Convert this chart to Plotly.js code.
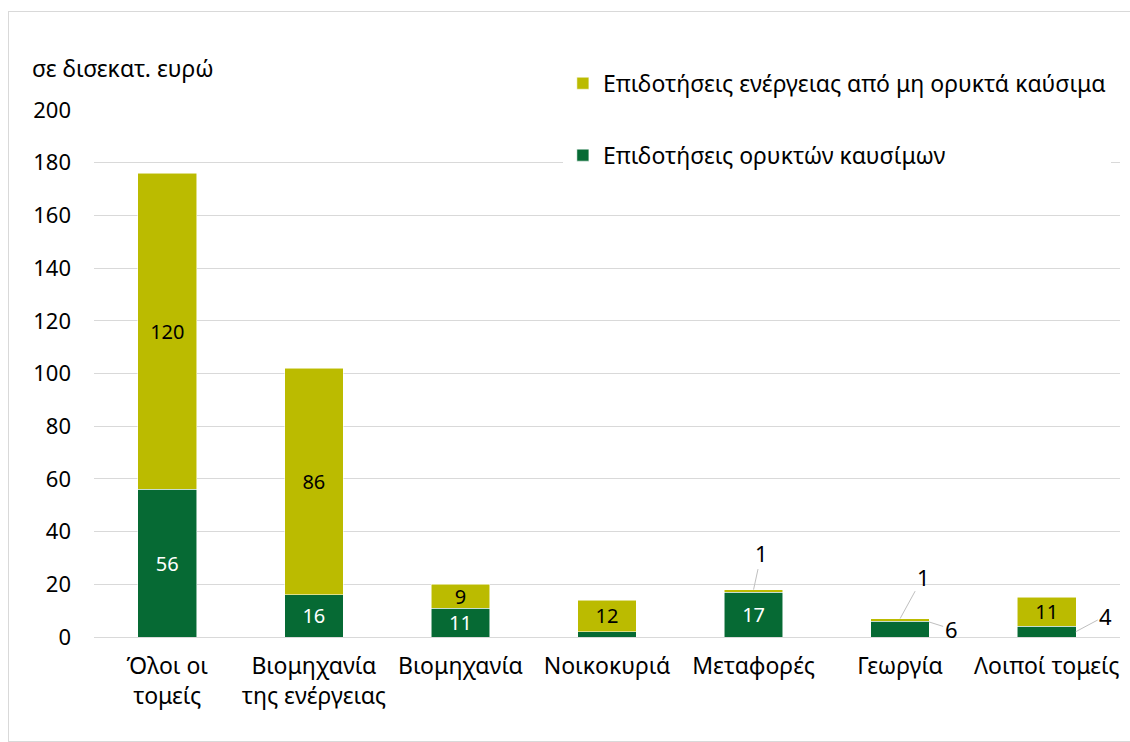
<!DOCTYPE html>
<html>
<head>
<meta charset="utf-8">
<script src="https://cdn.plot.ly/plotly-3.0.1.min.js"></script>
<style>
  html, body { margin: 0; padding: 0; background: #fff; }
  #wrap { position: relative; width: 1130px; height: 742px; overflow: hidden; }
  #chart { position: absolute; left: 0; top: 0; width: 1130px; height: 742px; }
  #frame { position: absolute; left: 8px; top: 11px; width: 1140px; height: 729px;
           border: 1px solid #d9d9d9; pointer-events: none; }
</style>
</head>
<body>
<div id="wrap">
  <div id="chart"></div>
  <div id="frame"></div>
</div>
<script>
// ---- data ----
const categories = ['Όλοι οι<br>τομείς', 'Βιομηχανία<br>της ενέργειας', 'Βιομηχανία', 'Νοικοκυριά', 'Μεταφορές', 'Γεωργία', 'Λοιποί τομείς'];
const fossil = [56, 16, 11, 2, 17, 6, 4];
const nonFossil = [120, 86, 9, 12, 1, 1, 11];
const seriesNames = ['Επιδοτήσεις ορυκτών καυσίμων', 'Επιδοτήσεις ενέργειας από μη ορυκτά καύσιμα'];
const yTicks = [0, 20, 40, 60, 80, 100, 120, 140, 160, 180, 200];
const unitLabel = 'σε δισεκατ. ευρώ';

const GREEN = '#066a34';
const OLIVE = '#bbbb00';
const FONT = 'Noto Sans, Open Sans, sans-serif';
const FS = 23;
const FS_NUM = 22;
const FS_BAR = 20;

// labels inside bars only when segment is tall enough
const inside = v => v >= 8 ? String(v) : '';

const traces = [
  {
    type: 'bar', name: seriesNames[0], x: categories, y: fossil,
    marker: { color: GREEN, line: { color: 'rgba(255,255,255,0.7)', width: 0.75 } },
    text: fossil.map(inside), textposition: 'inside', insidetextanchor: 'middle',
    constraintext: 'none', textangle: 0,
    textfont: { family: FONT, size: FS_BAR, color: '#ffffff' },
    legendgroup: 'g1', legendrank: 2, hoverinfo: 'skip'
  },
  {
    type: 'bar', name: seriesNames[1], x: categories, y: nonFossil,
    marker: { color: OLIVE, line: { color: 'rgba(255,255,255,0.7)', width: 0.75 } },
    text: nonFossil.map(inside), textposition: 'inside', insidetextanchor: 'middle',
    constraintext: 'none', textangle: 0,
    textfont: { family: FONT, size: FS_BAR, color: '#000000' },
    legendgroup: 'g2', legendrank: 1, hoverinfo: 'skip'
  }
];

const lead = { showarrow: true, arrowhead: 0, arrowwidth: 1, arrowcolor: '#bfbfbf',
               font: { family: FONT, size: FS_NUM, color: '#000' }, xref: 'x', yref: 'y' };

const annotations = [
  // unit label
  { text: unitLabel, xref: 'paper', yref: 'paper', x: -0.0625, y: 1.08,
    xanchor: 'left', yanchor: 'middle', showarrow: false,
    font: { family: FONT, size: FS, color: '#000' } },
  // Μεταφορές, non-fossil
  Object.assign({}, lead, { x: categories[4], y: fossil[4] + nonFossil[4], text: String(nonFossil[4]), ax: 8, ay: -37 }),
  // Γεωργία, non-fossil
  Object.assign({}, lead, { x: categories[5], y: fossil[5] + nonFossil[5], text: String(nonFossil[5]), ax: 23, ay: -42 }),
  // Γεωργία, fossil
  Object.assign({}, lead, { x: categories[5], y: fossil[5] - 0.3, xshift: 29, text: String(fossil[5]), ax: 22, ay: 7 }),
  // Λοιποί τομείς, fossil
  Object.assign({}, lead, { x: categories[6], y: fossil[6] / 2, xshift: 29, text: String(fossil[6]), ax: 30, ay: -16 })
];

const layout = {
  width: 1130, height: 742,
  margin: { l: 94, r: 10, t: 110, b: 105 },
  paper_bgcolor: '#ffffff', plot_bgcolor: '#ffffff',
  barmode: 'stack', bargap: 0.6,
  font: { family: FONT, size: FS, color: '#000' },
  showlegend: true,
  legend: {
    x: 0.457, y: 1.0915, xanchor: 'left', yanchor: 'top',
    bgcolor: '#ffffff', borderwidth: 0,
    traceorder: 'grouped', tracegroupgap: 39,
    font: { family: FONT, size: FS, color: '#000' }
  },
  xaxis: {
    type: 'category', showgrid: false, zeroline: false,
    showline: true, linecolor: '#d9d9d9', linewidth: 1,
    ticks: '', ticklabelstandoff: 8,
    tickfont: { family: FONT, size: FS, color: '#000' },
    fixedrange: true
  },
  yaxis: {
    range: [0, 200], tickmode: 'array', tickvals: yTicks, ticktext: yTicks.map(String),
    showgrid: true, gridcolor: '#d9d9d9', gridwidth: 1, zeroline: false,
    showline: false, ticks: '', ticklabelstandoff: 22,
    tickfont: { family: FONT, size: FS_NUM, color: '#000' },
    fixedrange: true
  },
  annotations: annotations
};

Plotly.newPlot('chart', traces, layout, { displayModeBar: false, staticPlot: true });
</script>
</body>
</html>
